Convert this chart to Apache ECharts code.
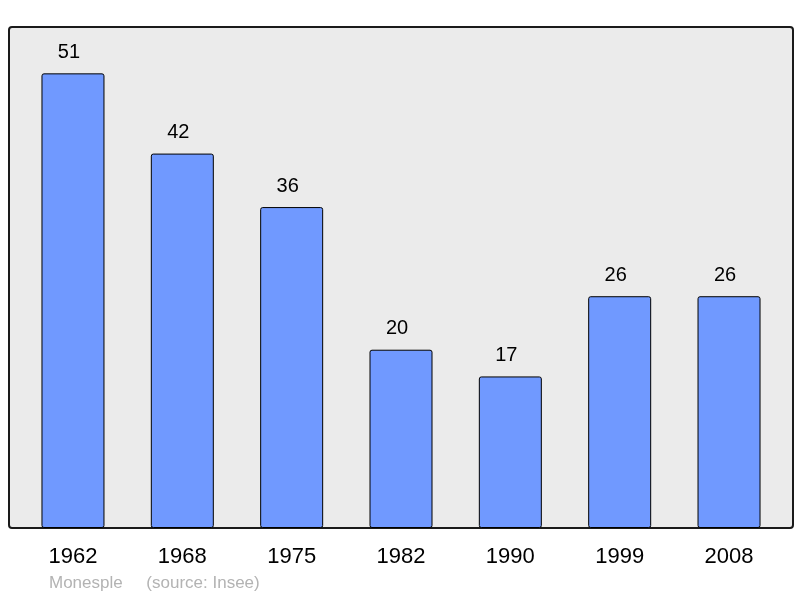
<!DOCTYPE html>
<html>
<head>
<meta charset="utf-8">
<script src="https://cdn.jsdelivr.net/npm/echarts@6/dist/echarts.min.js"></script>
<style>
  html, body { margin: 0; padding: 0; background: #fff; }
  #chart { width: 800px; height: 598px; }
</style>
</head>
<body>
<div id="chart"></div>
<script>
var years = ['1962', '1968', '1975', '1982', '1990', '1999', '2008'];
var population = [51, 42, 36, 20, 17, 26, 26];
var place = 'Monesple';
var source = '(source: Insee)';

var myChart = echarts.init(document.getElementById('chart'));
myChart.setOption({
  animation: false,
  backgroundColor: '#fff',
  graphic: [
    {
      type: 'rect',
      z: -10,
      shape: { x: 9, y: 27, width: 784, height: 501, r: 3 },
      style: { fill: '#ebebeb', stroke: '#1a1a1a', lineWidth: 2 }
    },
    {
      type: 'text',
      left: 49,
      top: 575,
      style: {
        text: place + '     ' + source,
        fill: '#b3b3b3',
        font: '17px "Liberation Sans", Arial, sans-serif'
      }
    }
  ],
  grid: { left: 18.3, right: 16.3, top: 27, bottom: 70 },
  xAxis: {
    type: 'category',
    data: years,
    axisLine: { show: false },
    axisTick: { show: false },
    axisLabel: {
      margin: 18,
      color: '#000',
      fontSize: 22,
      fontFamily: '"Liberation Sans", Arial, sans-serif'
    }
  },
  yAxis: {
    type: 'value',
    min: 0,
    max: 56.2,
    show: false,
    splitLine: { show: false }
  },
  series: [
    {
      type: 'bar',
      data: population,
      barWidth: 63,
      itemStyle: {
        color: '#7099ff',
        borderColor: '#000',
        borderWidth: 1,
        borderRadius: 2
      },
      label: {
        show: true,
        position: 'top',
        distance: 11,
        offset: [-4, 0],
        color: '#000',
        fontSize: 20,
        fontFamily: '"Liberation Sans", Arial, sans-serif'
      }
    }
  ]
});
</script>
</body>
</html>
